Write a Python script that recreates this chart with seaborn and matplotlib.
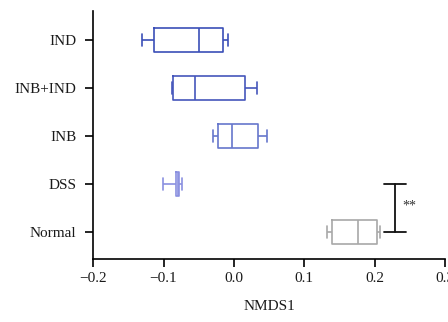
import numpy as np
import pandas as pd
import matplotlib
matplotlib.use("Agg")
import matplotlib.pyplot as plt
import seaborn as sns

groups = ["IND", "INB+IND", "INB", "DSS", "Normal"]
# five-number summaries: min, q1, median, q3, max
ind_vals = [-0.130, -0.113, -0.050, -0.016, -0.009]
inbind_vals = [-0.088, -0.086, -0.055, 0.016, 0.033]
inb_vals = [-0.030, -0.023, -0.003, 0.034, 0.047]
dss_vals = [-0.101, -0.082, -0.080, -0.078, -0.074]
normal_vals = [0.132, 0.140, 0.177, 0.204, 0.208]
colors = ["#3b4fb8", "#4556bb", "#6677cc", "#8a90e0", "#a8a8a8"]
xticks = [-0.2, -0.1, 0.0, 0.1, 0.2, 0.3]
xtick_labels = ["\u22120.2", "\u22120.1", "0.0", "0.1", "0.2", "0.3"]
sig_pair = ("DSS", "Normal")
sig_x = 0.229
sig_text = "**"

df = pd.DataFrame({
    "group": np.repeat(groups, 5),
    "NMDS1": ind_vals + inbind_vals + inb_vals + dss_vals + normal_vals,
})

sns.set_theme(style="ticks")
plt.rcParams["font.family"] = ["Liberation Serif", "DejaVu Serif"]
plt.rcParams["text.color"] = "#1a1a1a"
plt.rcParams["xtick.labelcolor"] = "#1a1a1a"
plt.rcParams["ytick.labelcolor"] = "#1a1a1a"

fig, ax = plt.subplots(figsize=(4.48, 3.22), dpi=100)
sns.boxplot(data=df, x="NMDS1", y="group", hue="group", order=groups,
            hue_order=groups, palette=colors, fill=False, width=0.5,
            whis=(0, 100), linewidth=1.2, legend=False, ax=ax)

ax.set_xlim(-0.2, 0.3)
ax.set_ylim(4.56, -0.6)
ax.set_xticks(xticks)
ax.set_xticklabels(xtick_labels)
ax.set_xlabel("NMDS1", fontsize=11, labelpad=11, color="#1a1a1a")
ax.set_ylabel("")
ax.tick_params(axis="both", labelsize=11, length=6, width=1.2, color="black")
ax.tick_params(axis="y", pad=6)
for side in ["left", "bottom"]:
    ax.spines[side].set_linewidth(1.2)
    ax.spines[side].set_color("black")
sns.despine(ax=ax)

# significance bracket
y1 = groups.index(sig_pair[0])
y2 = groups.index(sig_pair[1])
ax.plot([sig_x, sig_x], [y1, y2], color="#111111", lw=1.3, clip_on=False)
for yy in (y1, y2):
    ax.plot([sig_x - 0.016, sig_x + 0.016], [yy, yy], color="#111111", lw=1.3, clip_on=False)
ax.text(sig_x + 0.011, (y1 + y2) / 2 - 0.05, sig_text, fontsize=10, color="#333333",
        va="center", ha="left")

fig.subplots_adjust(left=0.208, right=0.993, top=0.966, bottom=0.196)
fig.savefig("out.png", dpi=100)
